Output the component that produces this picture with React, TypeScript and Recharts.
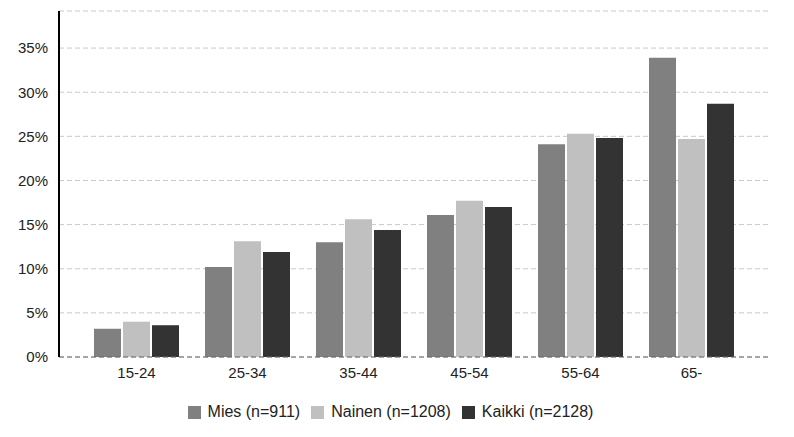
import React from 'react';
import {
  BarChart,
  Bar,
  XAxis,
  YAxis,
  CartesianGrid,
  Legend,
  ReferenceLine,
} from 'recharts';

const ageGroups = ['15-24', '25-34', '35-44', '45-54', '55-64', '65-'];
const mies = [3.2, 10.2, 13.0, 16.1, 24.1, 33.9];
const nainen = [4.0, 13.1, 15.6, 17.7, 25.3, 24.7];
const kaikki = [3.6, 11.9, 14.4, 17.0, 24.8, 28.7];
const yTicks = [0, 5, 10, 15, 20, 25, 30, 35];

const seriesNames = ['Mies (n=911)', 'Nainen (n=1208)', 'Kaikki (n=2128)'];
const seriesColors = ['#808080', '#c0c0c0', '#333333'];

const data = ageGroups.map((name, i) => ({
  name,
  mies: mies[i],
  nainen: nainen[i],
  kaikki: kaikki[i],
}));

const font = '"Liberation Sans", Arial, sans-serif';

const renderLegend = () => (
  <div
    style={{
      display: 'flex',
      justifyContent: 'center',
      alignItems: 'flex-start',
      height: 40,
      paddingTop: 6,
      paddingRight: 13,
      boxSizing: 'border-box',
      fontFamily: font,
      fontSize: 16,
      lineHeight: '18px',
      color: '#222',
    }}
  >
    {seriesNames.map((n, i) => (
      <div key={n} style={{ display: 'flex', alignItems: 'center', marginRight: i < 2 ? 11 : 0 }}>
        <span
          style={{
            display: 'inline-block',
            width: 13,
            height: 13,
            background: seriesColors[i],
            marginRight: 7,
          }}
        />
        <span>{n}</span>
      </div>
    ))}
  </div>
);

const App: React.FC = () => {
  return (
    <div style={{ position: 'absolute', left: 0, top: 0, background: '#fff' }}>
      <BarChart
        width={794}
        height={437}
        data={data}
        margin={{ top: 11, right: 24, left: 0, bottom: 0 }}
        barGap={2}
        barSize={27}
      >
        <CartesianGrid vertical={false} stroke="#c8c8c8" strokeDasharray="5 3" />
        <XAxis
          dataKey="name"
          height={40}
          axisLine={false}
          tickLine={false}
          tickSize={0}
          tickMargin={10}
          padding={{ left: 22, right: 23 }}
          tick={{ fill: '#222', fontSize: 15, fontFamily: font }}
        />
        <YAxis
          width={59}
          domain={[0, 39.2]}
          ticks={yTicks}
          tickFormatter={(v: number) => `${v}%`}
          axisLine={{ stroke: '#000', strokeWidth: 2 }}
          tickLine={false}
          tickSize={0}
          tickMargin={11}
          tick={{ fill: '#222', fontSize: 15, fontFamily: font }}
        />
        <ReferenceLine y={0} stroke="#666" strokeDasharray="5 3" />
        <Legend verticalAlign="bottom" content={renderLegend} wrapperStyle={{ left: 0, width: 794 }} />
        <Bar dataKey="mies" name={seriesNames[0]} fill={seriesColors[0]} isAnimationActive={false} />
        <Bar dataKey="nainen" name={seriesNames[1]} fill={seriesColors[1]} isAnimationActive={false} />
        <Bar dataKey="kaikki" name={seriesNames[2]} fill={seriesColors[2]} isAnimationActive={false} />
      </BarChart>
    </div>
  );
};

export default App;
